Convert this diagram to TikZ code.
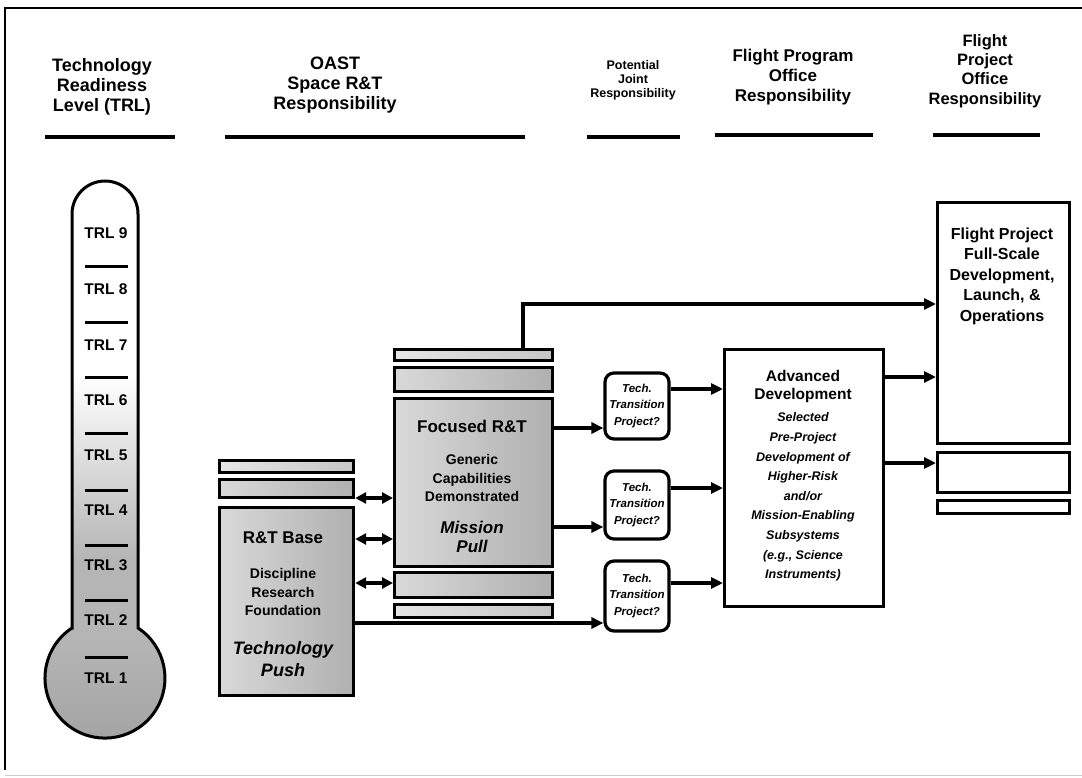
\documentclass[tikz,border=0pt]{standalone}
\usepackage{fontspec}
\setmainfont{Liberation Sans}
\usetikzlibrary{arrows.meta}
\tikzset{
  hdr/.style={font=\bfseries\fontsize{18}{20}\selectfont, align=center, inner sep=0pt},
  ul/.style={line width=3.5pt},
  frame/.style={line width=2.2pt},
  gbox/.style={draw, line width=3.2pt, left color=gray!30, right color=gray!62, anchor=north west, inner sep=0pt},
  wbox/.style={draw, line width=3.2pt, fill=white, anchor=north west, inner sep=0pt},
  ttbox/.style={draw, line width=3.2pt, rounded corners=9pt, minimum width=64pt, inner sep=0pt},
  txt/.style={align=center, inner sep=0pt, font=\bfseries\fontsize{17}{20}\selectfont},
  ttxt/.style={align=center, inner sep=0pt, font=\bfseries\itshape\fontsize{11.5}{16.5}\selectfont},
  trl/.style={inner sep=0pt, font=\bfseries\fontsize{15.5}{16}\selectfont},
  arr/.style={line width=3.2pt, -{Triangle[length=12pt,width=11pt]}},
  darr/.style={line width=3.2pt, {Triangle[length=11pt,width=11pt]}-{Triangle[length=11pt,width=11pt]}},
  tick/.style={line width=3pt}
}
\begin{document}
\begin{tikzpicture}[x=1pt,y=-1pt]
\useasboundingbox (0,0) rectangle (1082,777);
\fill[white] (0,0) rectangle (1082,777);
% frame
\draw[frame] (5,770) -- (5,8) -- (1082,8);
\draw[gray!40, line width=1pt] (5,775) -- (1082,775);

% headers
\node[hdr] (h1) at (102,87) {Technology\\Readiness\\Level (TRL)};
\draw[ul] (45,137) -- (175,137);
\node[hdr] (h2) at (335,85) {OAST\\Space R\&T\\Responsibility};
\draw[ul] (225,137) -- (525,137);
\node[hdr, font=\bfseries\fontsize{12.5}{14}\selectfont] (h3) at (633,80) {Potential\\Joint\\Responsibility};
\draw[ul] (587,137) -- (680,137);
\node[hdr, font=\bfseries\fontsize{17}{20}\selectfont] (h4) at (793,77) {Flight Program\\Office\\Responsibility};
\draw[ul] (715,135) -- (873,135);
\node[hdr, font=\bfseries\fontsize{16.5}{19.3}\selectfont] (h5) at (985,71) {Flight\\Project\\Office\\Responsibility};
\draw[ul] (933,135) -- (1040,135);

% thermometer
\def\thermo{(72,628) -- (72,214) arc (180:360:33) -- (138,628) arc (-56.6:236.6:60) -- cycle}
\fill[white] \thermo;
\begin{scope}
  \clip \thermo;
  \shade[top color=white, bottom color=gray!58] (30,375) rectangle (180,560);
  \fill[gray!58] (30,559) rectangle (180,745);
  \shade[top color=gray!58, bottom color=gray!72] (30,640) rectangle (180,745);
\end{scope}
\draw[line width=3pt] \thermo;
\foreach \n/\yy in {9/233,8/289,7/345,6/400,5/455,4/510,3/565,2/620,1/678}{
  \node[trl] (trl\n) at (106,\yy) {TRL \n};
}
\foreach \yy in {266,322,377,433,490,545,600,657}{
  \draw[tick] (85,\yy) -- (128,\yy);
}

% R&T base group
\node[gbox, minimum width=134pt, minimum height=12pt, left color=gray!20, right color=gray!45] (lb1) at (218,459) {};
\node[gbox, minimum width=134pt, minimum height=18pt] (lb2) at (218,478) {};
\node[gbox, minimum width=134pt, minimum height=188pt] (rtb) at (218,506) {};
\node[txt] (rtbt) at (283,538) {R\&T Base};
\node[txt, font=\bfseries\fontsize{14}{18.5}\selectfont] (rtbd) at (283,592) {Discipline\\Research\\Foundation};
\node[txt, font=\bfseries\itshape\fontsize{18}{22}\selectfont] (rtbp) at (283,659) {Technology\\Push};

% Focused R&T group
\node[gbox, minimum width=158pt, minimum height=11pt, left color=gray!20, right color=gray!45] (cb1) at (393,348) {};
\node[gbox, minimum width=158pt, minimum height=24pt] (cb2) at (393,366) {};
\node[gbox, minimum width=158pt, minimum height=168pt] (fr) at (393,397) {};
\node[gbox, minimum width=158pt, minimum height=25pt] (cb3) at (393,571) {};
\node[gbox, minimum width=158pt, minimum height=13pt, left color=gray!20, right color=gray!45] (cb4) at (393,603) {};
\node[txt] (frt) at (472,426) {Focused R\&T};
\node[txt, font=\bfseries\fontsize{14}{18.5}\selectfont] (frg) at (472,478) {Generic\\Capabilities\\Demonstrated};
\node[txt, font=\bfseries\itshape\fontsize{17}{19}\selectfont] (frm) at (472,537) {Mission\\Pull};

% Tech transition boxes
\node[ttbox, minimum height=66pt] (t1) at (637,406) {};
\node[ttbox, minimum height=68pt] (t2) at (637,505) {};
\node[ttbox, minimum height=70pt] (t3) at (637,596) {};
\node[ttxt] (t1t) at (637,406) {Tech.\\Transition\\Project?};
\node[ttxt] (t2t) at (637,505) {Tech.\\Transition\\Project?};
\node[ttxt] (t3t) at (637,596) {Tech.\\Transition\\Project?};

% Advanced development
\node[wbox, minimum width=159pt, minimum height=257pt] (ad) at (723,348) {};
\node[txt, font=\bfseries\fontsize{15.5}{18}\selectfont] (adt) at (803,386) {Advanced\\Development};
\node[txt, font=\bfseries\itshape\fontsize{12.5}{19.6}\selectfont] (adi) at (803,497) {Selected\\Pre-Project\\Development of\\Higher-Risk\\and/or\\Mission-Enabling\\Subsystems\\(e.g., Science\\Instruments)};

% Flight project
\node[wbox, minimum width=132pt, minimum height=241pt] (fp) at (936,201) {};
\node[wbox, minimum width=132pt, minimum height=40pt] (fp2) at (936,451) {};
\node[wbox, minimum width=132pt, minimum height=13pt] (fp3) at (936,499) {};
\node[txt, font=\bfseries\fontsize{16}{20.5}\selectfont] (fpt) at (1002,276) {Flight Project\\Full-Scale\\Development,\\Launch, \&\\Operations};

% connectors
\coordinate (up) at (523,304);
\draw[arr] (cb1.north -| up) |- (fp.west |- up);
\draw[darr] (lb2.east |- 0,498) -- (fr.west |- 0,498);
\draw[darr] (rtb.east |- 0,539) -- (fr.west |- 0,539);
\draw[darr] (rtb.east |- 0,583) -- (cb3.west |- 0,583);
\draw[arr] (rtb.east |- 0,623) -- (t3.west |- 0,623);
\draw[arr] (fr.east |- 0,428) -- (t1.west |- 0,428);
\draw[arr] (fr.east |- 0,527) -- (t2.west |- 0,527);
\draw[arr] (t1.east |- 0,389) -- (ad.west |- 0,389);
\draw[arr] (t2.east |- 0,488) -- (ad.west |- 0,488);
\draw[arr] (t3.east |- 0,583) -- (ad.west |- 0,583);
\draw[arr] (ad.east |- 0,377) -- (fp.west |- 0,377);
\draw[arr] (ad.east |- 0,463) -- (fp2.west |- 0,463);
\end{tikzpicture}
\end{document}
